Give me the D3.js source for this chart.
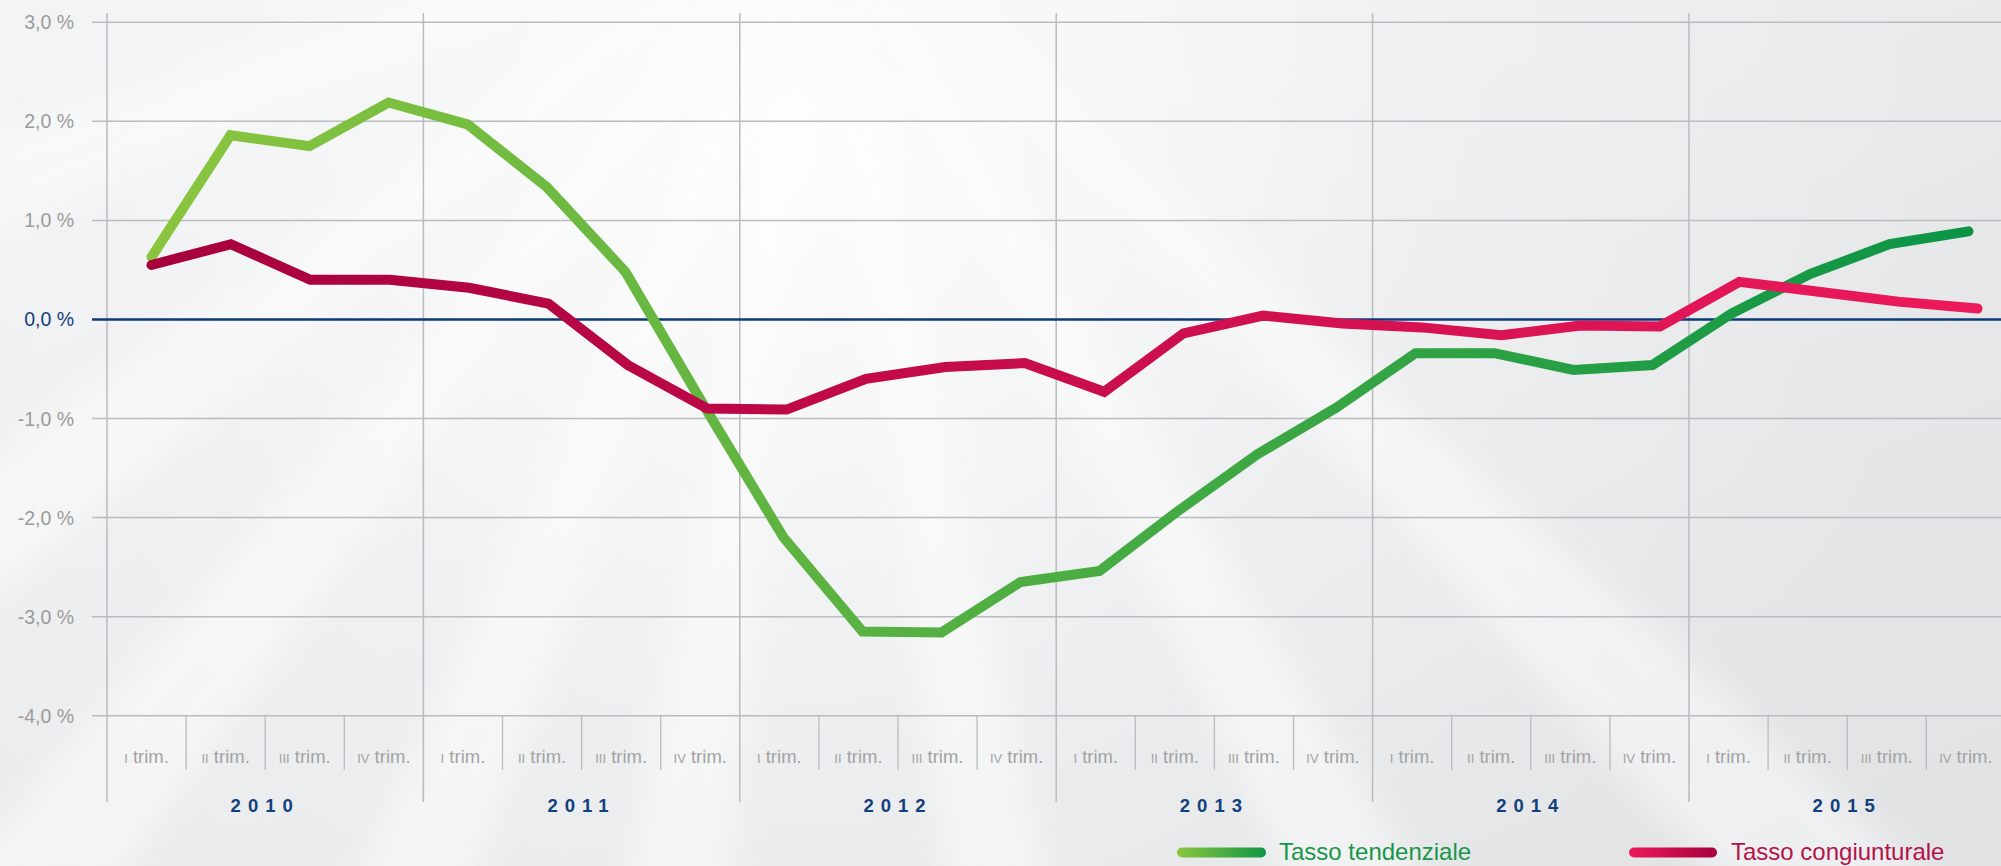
<!DOCTYPE html>
<html>
<head>
<meta charset="utf-8">
<script src="https://cdn.jsdelivr.net/npm/d3@7/dist/d3.min.js"></script>
<style>
  html, body { margin: 0; padding: 0; background: #eceef0; }
  svg { display: block; }
</style>
</head>
<body>
<svg id="chart" width="2001" height="866"></svg>
<script>
// ---- data ----
const years = ["2010", "2011", "2012", "2013", "2014", "2015"];
const quarterNumerals = ["I", "II", "III", "IV"];
const quarterWord = "trim.";
const tendenziale = [0.63, 1.86, 1.75, 2.19, 1.97, 1.34, 0.48, -0.88,
                     -2.20, -3.15, -3.16, -2.65, -2.54, -1.93, -1.36, -0.89,
                     -0.34, -0.34, -0.51, -0.46, 0.06, 0.46, 0.76, 0.89];
const congiunturale = [0.55, 0.76, 0.40, 0.40, 0.32, 0.16, -0.46, -0.90,
                       -0.91, -0.60, -0.48, -0.44, -0.73, -0.14, 0.04, -0.04,
                       -0.08, -0.16, -0.06, -0.07, 0.38, 0.28, 0.18, 0.11];
const yTicks = [3, 2, 1, 0, -1, -2, -3, -4];
const legendLabels = ["Tasso tendenziale", "Tasso congiunturale"];

// ---- setup ----
const W = 2001, H = 866;
const svg = d3.select("#chart");
const defs = svg.append("defs");

// background
const bg = defs.append("linearGradient").attr("id", "bg").attr("x1", 0).attr("y1", 0).attr("x2", 1).attr("y2", 1);
bg.append("stop").attr("offset", 0).attr("stop-color", "#f1f2f3");
bg.append("stop").attr("offset", 1).attr("stop-color", "#e0e2e4");
const glow = defs.append("radialGradient").attr("id", "glow")
  .attr("gradientUnits", "userSpaceOnUse").attr("cx", 800).attr("cy", 150).attr("r", 1150);
glow.append("stop").attr("offset", 0).attr("stop-color", "#ffffff").attr("stop-opacity", 0.85);
glow.append("stop").attr("offset", 0.55).attr("stop-color", "#ffffff").attr("stop-opacity", 0.25);
glow.append("stop").attr("offset", 1).attr("stop-color", "#ffffff").attr("stop-opacity", 0);
const blur = defs.append("filter").attr("id", "blur").attr("x", "-50%").attr("y", "-50%").attr("width", "200%").attr("height", "200%");
blur.append("feGaussianBlur").attr("stdDeviation", 16);

svg.append("rect").attr("width", W).attr("height", H).attr("fill", "url(#bg)");
svg.append("rect").attr("width", W).attr("height", H).attr("fill", "url(#glow)");
// faint light rays
const rays = svg.append("g").attr("filter", "url(#blur)").attr("opacity", 0.45);
const rayAngles = [-70, -52, -38, -22, -8, 10, 28, 45];
rays.selectAll("path").data(rayAngles).join("path")
  .attr("d", a => {
    const ox = 820, oy = -120, L = 1600;
    const r1 = (a - 3) * Math.PI / 180, r2 = (a + 3) * Math.PI / 180;
    return `M${ox},${oy} L${ox + L * Math.sin(r1)},${oy + L * Math.cos(r1)} L${ox + L * Math.sin(r2)},${oy + L * Math.cos(r2)} Z`;
  })
  .attr("fill", "#ffffff");

// ---- scales ----
const plotLeft = 107, qStep = 79.1;
const xQuarter = d3.scaleBand().domain(d3.range(24)).range([plotLeft, plotLeft + 24 * qStep]).padding(0);
const xYear = d3.scaleBand().domain(years).range([plotLeft, plotLeft + 24 * qStep]).padding(0);
const xG = d3.scaleLinear().domain([0, 23]).range([151.5, 1968.5]);
const xR = d3.scaleLinear().domain([0, 23]).range([151.5, 1977.5]);
const y = d3.scaleLinear().domain([-4, 3]).range([715.7, 22.3]);

const gridColor = "#b9bcbf";
const labelColor = "#9b9b9b";
const blue = "#12407e";

// horizontal gridlines
svg.append("g").selectAll("line").data(yTicks.filter(d => d !== 0)).join("line")
  .attr("x1", 92).attr("x2", W).attr("y1", d => y(d)).attr("y2", d => y(d))
  .attr("stroke", gridColor).attr("stroke-width", 1.5);

// vertical year lines
svg.append("g").selectAll("line").data(years).join("line")
  .attr("x1", d => xYear(d)).attr("x2", d => xYear(d))
  .attr("y1", 13).attr("y2", 802)
  .attr("stroke", gridColor).attr("stroke-width", 1.5);

// quarter separators
svg.append("g").selectAll("line").data(d3.range(24).filter(i => i % 4 !== 0)).join("line")
  .attr("x1", i => xQuarter(i)).attr("x2", i => xQuarter(i))
  .attr("y1", y(-4)).attr("y2", 770)
  .attr("stroke", gridColor).attr("stroke-width", 1.3);

// zero line
svg.append("line").attr("x1", 92).attr("x2", W).attr("y1", y(0)).attr("y2", y(0))
  .attr("stroke", "#0c3a78").attr("stroke-width", 2.6);

// y tick labels
svg.append("g").selectAll("text").data(yTicks).join("text")
  .attr("x", 74).attr("y", d => y(d) + 7)
  .attr("text-anchor", "end")
  .attr("font-family", "Liberation Sans, Arial, sans-serif")
  .attr("font-size", 19.5)
  .attr("fill", d => d === 0 ? blue : labelColor)
  .text(d => d3.format(".1f")(d).replace(".", ",").replace("\u2212", "-") + " %");

// quarter labels
const ql = svg.append("g").selectAll("text").data(d3.range(24)).join("text")
  .attr("x", i => xQuarter(i) + xQuarter.bandwidth() / 2)
  .attr("y", 762.5)
  .attr("text-anchor", "middle")
  .attr("font-family", "Liberation Sans, Arial, sans-serif")
  .attr("fill", "#a3a3a3");
ql.append("tspan").attr("font-size", 13).text(i => quarterNumerals[i % 4]);
ql.append("tspan").attr("font-size", 18.5).text(" " + quarterWord);

// year labels
svg.append("g").selectAll("text").data(years).join("text")
  .attr("x", d => xYear(d) + xYear.bandwidth() / 2)
  .attr("y", 811.5)
  .attr("text-anchor", "middle")
  .attr("font-family", "Liberation Sans, Arial, sans-serif")
  .attr("font-weight", "bold")
  .attr("font-size", 18.5)
  .attr("letter-spacing", 7)
  .attr("fill", blue)
  .text(d => d);

// ---- line gradients ----
function grad(id, x1, x2, c1, c2) {
  const g = defs.append("linearGradient").attr("id", id)
    .attr("gradientUnits", "userSpaceOnUse").attr("x1", x1).attr("x2", x2).attr("y1", 0).attr("y2", 0);
  g.append("stop").attr("offset", 0).attr("stop-color", c1);
  g.append("stop").attr("offset", 1).attr("stop-color", c2);
}
grad("gGreen", 150, 1970, "#8bc53f", "#0b9446");
grad("gRed", 150, 1980, "#a6003d", "#ec1a5b");
grad("lgGreen", 1177, 1266, "#8cc63f", "#0f9646");
grad("lgRed", 1629, 1717, "#ec1a5b", "#a6003d");

const lineG = d3.line().x((d, i) => xG(i)).y(d => y(d));
const lineR = d3.line().x((d, i) => xR(i)).y(d => y(d));

svg.append("path").datum(tendenziale).attr("d", lineG)
  .attr("fill", "none").attr("stroke", "url(#gGreen)")
  .attr("stroke-width", 10).attr("stroke-linecap", "round").attr("stroke-linejoin", "miter");
svg.append("path").datum(congiunturale).attr("d", lineR)
  .attr("fill", "none").attr("stroke", "url(#gRed)")
  .attr("stroke-width", 10).attr("stroke-linecap", "round").attr("stroke-linejoin", "miter");

// ---- legend ----
const legend = [
  { label: legendLabels[0], x1: 1182, x2: 1261, grad: "url(#lgGreen)", color: "#17964a", tx: 1279 },
  { label: legendLabels[1], x1: 1634, x2: 1712, grad: "url(#lgRed)", color: "#b3124a", tx: 1731 }
];
const lg = svg.append("g").selectAll("g").data(legend).join("g");
lg.append("line").attr("x1", d => d.x1).attr("x2", d => d.x2).attr("y1", 852.5).attr("y2", 852.5)
  .attr("stroke", d => d.grad).attr("stroke-width", 10).attr("stroke-linecap", "round");
lg.append("text").attr("x", d => d.tx).attr("y", 860)
  .attr("font-family", "Liberation Sans, Arial, sans-serif").attr("font-size", 24)
  .attr("fill", d => d.color).text(d => d.label);
</script>
</body>
</html>
